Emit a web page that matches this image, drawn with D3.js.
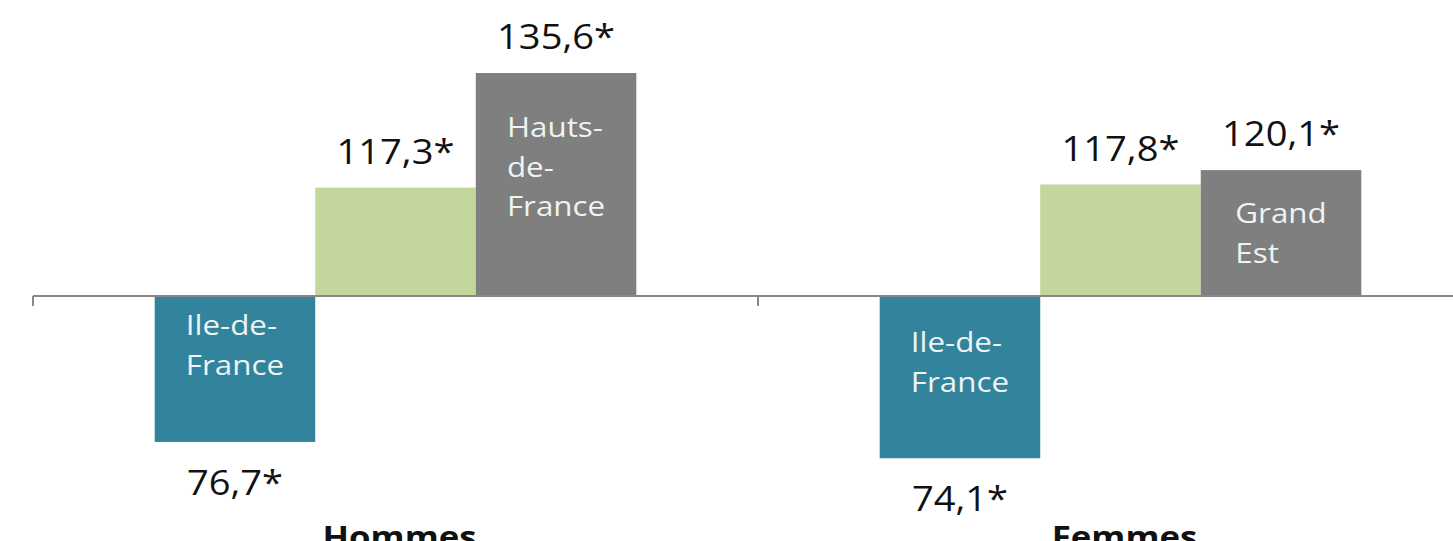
<!DOCTYPE html>
<html>
<head>
<meta charset="utf-8">
<script src="https://cdn.jsdelivr.net/npm/d3@7"></script>
<style>
  html, body { margin: 0; padding: 0; background: #fff; overflow: hidden; }
  svg { display: block; font-family: 'Open Sans', sans-serif; }
</style>
</head>
<body>
<svg id="chart"></svg>
<script>
'use strict'

const WIDTH = 1453;
const HEIGHT = 541;

// data
const categories = ['Hommes', 'Femmes'];
const series = ['min', 'moyen', 'max'];
const valuesHommes = [76.7, 117.3, 135.6];
const valuesFemmes = [74.1, 117.8, 120.1];
const regionsHommes = [['Ile-de-', 'France'], [], ['Hauts-', 'de-', 'France']];
const regionsFemmes = [['Ile-de-', 'France'], [], ['Grand', 'Est']];
const reference = 100;

// style / layout
const colors = ['#31849b', '#c3d69b', '#7f7f7f'];
const innerNudge = { Hommes: [-24, 0, -18], Femmes: [-15, 0, 0] };
const STRETCH = 1.12;

const rows = [];
categories.forEach((cat, ci) => {
  const vals = ci === 0 ? valuesHommes : valuesFemmes;
  const regs = ci === 0 ? regionsHommes : regionsFemmes;
  series.forEach((s, si) => rows.push({ cat, s, si, value: vals[si], lines: regs[si] }));
});

const svg = d3.select('#chart')
  .attr('width', WIDTH)
  .attr('height', HEIGHT);

const xScale = d3.scaleBand()
  .domain(categories)
  .range([33, 33 + 725 * 2])
  .padding(0);

const xInner = d3.scaleBand()
  .domain(series)
  .range([0, xScale.bandwidth()])
  .paddingInner(0)
  .paddingOuter(0.758);

const yScale = d3.scaleLinear()
  .domain([70, 140])
  .range([296 + 30 * 6.264, 296 - 40 * 6.264]);

const fmt = d3.formatLocale({ decimal: ',', thousands: ' ', grouping: [3], currency: ['', ''] }).format('.1f');

// bars
svg.append('g')
  .selectAll('rect')
  .data(rows)
  .join('rect')
  .attr('x', d => xScale(d.cat) + xInner(d.s))
  .attr('width', xInner.bandwidth())
  .attr('y', d => yScale(Math.max(d.value, reference)))
  .attr('height', d => Math.abs(yScale(d.value) - yScale(reference)))
  .attr('fill', d => colors[d.si]);

// axis at reference value
const axis = d3.axisBottom(xScale)
  .tickSize(9)
  .tickFormat('')
  .tickValues([]);
const axisG = svg.append('g')
  .attr('transform', 'translate(0,' + yScale(reference) + ')')
  .call(axis);
axisG.select('.domain').remove();
axisG.append('line')
  .attr('x1', 33).attr('x2', WIDTH)
  .attr('stroke', '#888').attr('stroke-width', 2);
axisG.selectAll('line.tk')
  .data(categories)
  .join('line')
  .attr('class', 'tk')
  .attr('x1', d => xScale(d)).attr('x2', d => xScale(d))
  .attr('y1', 0).attr('y2', 10)
  .attr('stroke', '#888').attr('stroke-width', 2);

// value labels
svg.append('g')
  .selectAll('text')
  .data(rows)
  .join('text')
  .attr('transform', d => {
    const cx = xScale(d.cat) + xInner(d.s) + xInner.bandwidth() / 2;
    const y = d.value >= reference ? yScale(d.value) - 24 : yScale(d.value) + 53;
    return 'translate(' + cx + ',' + y + ') scale(' + STRETCH + ',1)';
  })
  .attr('text-anchor', 'middle')
  .attr('font-size', 34)
  .attr('fill', '#111')
  .text(d => fmt(d.value) + '*');

// region names inside bars
const LH = 40;
const inner = svg.append('g')
  .selectAll('g')
  .data(rows.filter(d => d.lines.length))
  .join('g')
  .attr('transform', d => {
    const cx = xScale(d.cat) + xInner(d.s) + xInner.bandwidth() / 2;
    const cy = (yScale(d.value) + yScale(reference)) / 2 + innerNudge[d.cat][d.si];
    return 'translate(' + cx + ',' + cy + ') scale(' + STRETCH + ',1)';
  });
inner.each(function (d) {
  const g = d3.select(this);
  const t = g.append('text')
    .attr('font-size', 28)
    .attr('fill', '#eef3f4');
  t.selectAll('tspan')
    .data(d.lines)
    .join('tspan')
    .attr('x', 0)
    .attr('y', (l, i) => (i - (d.lines.length - 1) / 2) * LH + 10)
    .text(l => l);
  const w = t.node().getBBox().width;
  t.attr('transform', 'translate(' + (-w / 2) + ',0)');
});

// category labels
svg.append('g')
  .selectAll('text')
  .data(categories)
  .join('text')
  .attr('transform', d => 'translate(' + (xScale(d) + xScale.bandwidth() / 2 + 4) + ',548) scale(' + STRETCH + ',1)')
  .attr('text-anchor', 'middle')
  .attr('font-size', 31)
  .attr('font-weight', 'bold')
  .attr('fill', '#111')
  .text(d => d);
</script>
</body>
</html>
